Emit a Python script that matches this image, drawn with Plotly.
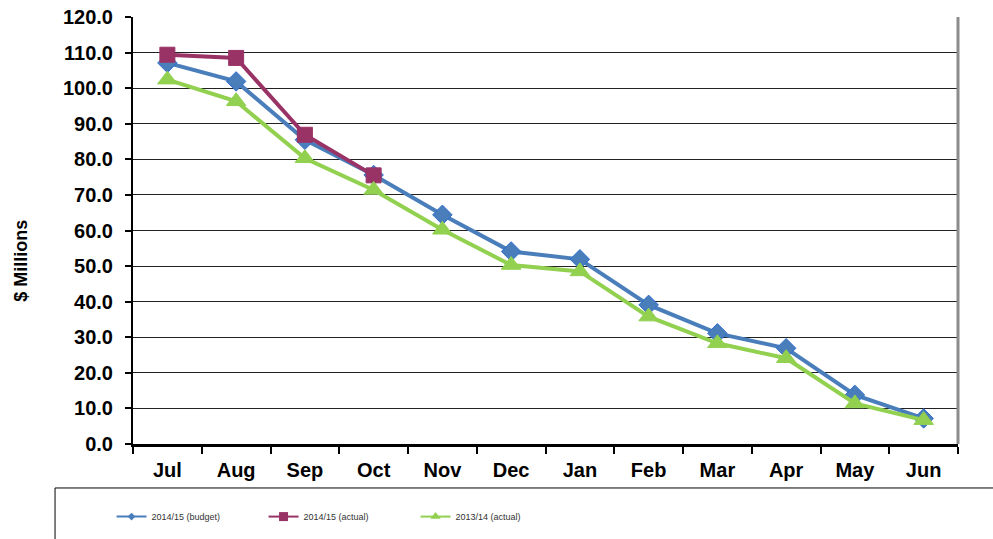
import plotly.graph_objects as go

months = ["Jul", "Aug", "Sep", "Oct", "Nov", "Dec", "Jan", "Feb", "Mar", "Apr", "May", "Jun"]
budget_1415 = [107.1, 101.9, 85.5, 75.6, 64.4, 54.1, 51.9, 39.1, 31.1, 26.9, 13.8, 7.2]
actual_1415 = [109.4, 108.5, 86.9, 75.5]
actual_1314 = [102.4, 96.3, 80.3, 71.4, 60.2, 50.3, 48.5, 35.8, 28.3, 24.1, 11.4, 6.7]
y_ticks = [0, 10, 20, 30, 40, 50, 60, 70, 80, 90, 100, 110, 120]

BLUE = "#4a7ebb"
RED = "#993366"
GREEN = "#92d050"
FONT = "Liberation Sans"

series = [
    ("2014/15 (budget)", months, budget_1415, BLUE, "diamond", 15),
    ("2014/15 (actual)", months[:len(actual_1415)], actual_1415, RED, "square", 15),
    ("2013/14 (actual)", months, actual_1314, GREEN, "triangle-up", 17),
]

fig = go.Figure()
for name, xs, ys, color, symbol, size in series:
    fig.add_trace(go.Scatter(
        x=xs, y=ys, name=name, mode="lines+markers", showlegend=False,
        line=dict(color=color, width=4),
        marker=dict(symbol=symbol, size=size, color=color,
                    line=dict(color="#2f6fd0" if color == BLUE else color, width=1)),
    ))
# slim legend keys
for name, xs, ys, color, symbol, size in series:
    fig.add_trace(go.Scatter(
        x=[None], y=[None], name=name, mode="lines+markers",
        line=dict(color=color, width=2),
        marker=dict(symbol=symbol, size=6 if color == BLUE else 9, color=color),
    ))

# legend frame below the plot
fig.add_shape(type="rect", xref="paper", yref="paper",
              x0=-0.0945, x1=1.2, y0=-0.35, y1=-0.103,
              line=dict(color="black", width=1), fillcolor="white", layer="below")
# right-hand plot border
fig.add_shape(type="line", xref="paper", yref="paper",
              x0=1.0, x1=1.0, y0=0, y1=1,
              line=dict(color="#8c8c8c", width=3))

fig.add_annotation(text="$ Millions", xref="paper", yref="paper",
                   x=-0.15, y=0.43, textangle=-90, showarrow=False,
                   font=dict(family=FONT, size=18, color="black", weight="bold"))

fig.update_layout(
    width=993, height=539,
    margin=dict(l=133, r=35, t=17, b=95, autoexpand=False),
    plot_bgcolor="white", paper_bgcolor="white",
    font=dict(family=FONT, color="black"),
    showlegend=True,
    legend=dict(orientation="h", x=-0.026, xanchor="left", y=-0.17, yanchor="middle",
                font=dict(family=FONT, size=9, color="#333333"),
                entrywidth=107, itemwidth=30, bgcolor="rgba(0,0,0,0)",
                traceorder="normal"),
    xaxis=dict(
        type="category", tickson="boundaries", ticks="outside", ticklen=7,
        tickwidth=2, tickcolor="black", ticklabelstandoff=6, automargin=False,
        showline=True, linecolor="black", linewidth=3,
        showgrid=False,
        tickfont=dict(family=FONT, size=20, color="black", weight="bold"),
        range=[-0.5, 11.5],
    ),
    yaxis=dict(
        range=[0, 120], tickvals=y_ticks, ticktext=[f"{v:.1f}" for v in y_ticks],
        ticks="outside", ticklen=6, tickwidth=2, tickcolor="black",
        ticklabelstandoff=8, automargin=False,
        showline=True, linecolor="black", linewidth=2,
        showgrid=True, gridcolor="#222222", gridwidth=1,
        zeroline=False,
        tickfont=dict(family=FONT, size=20, color="black", weight="bold"),
    ),
)

fig.write_html("out.html")
